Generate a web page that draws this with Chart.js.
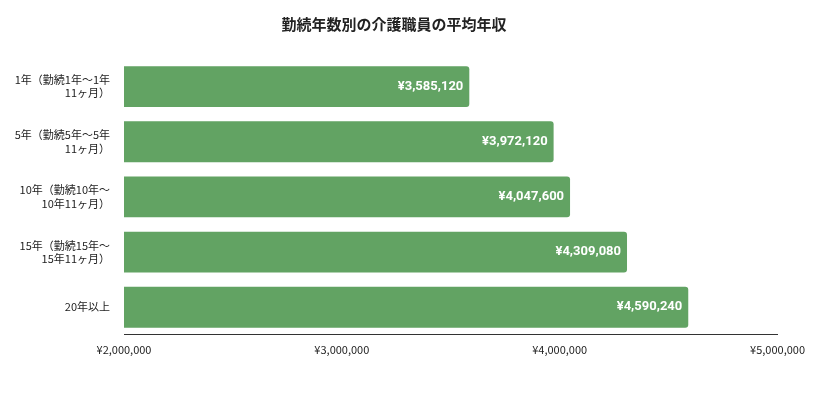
<!DOCTYPE html>
<html lang="ja">
<head>
<meta charset="UTF-8">
<script src="https://cdn.jsdelivr.net/npm/chart.js"></script>
<style>
  body { margin: 0; background: #fff; }
  .wrap { width: 813px; height: 410px; position: relative; }
</style>
</head>
<body>
<div class="wrap"><canvas id="c"></canvas></div>
<script>
const categories = [
  ['1年（勤続1年～1年', '11ヶ月）'],
  ['5年（勤続5年～5年', '11ヶ月）'],
  ['10年（勤続10年～', '10年11ヶ月）'],
  ['15年（勤続15年～', '15年11ヶ月）'],
  ['20年以上']
];
const salaries = [3585120, 3972120, 4047600, 4309080, 4590240];
const tickValues = [2000000, 3000000, 4000000, 5000000];

const yen = v => '¥' + v.toLocaleString('en-US');
const font = "'Noto Sans CJK JP', Roboto, sans-serif";

// 棒の右端に白い金額ラベル
const valueLabels = {
  id: 'valueLabels',
  afterDatasetsDraw(chart) {
    const g = chart.ctx;
    const meta = chart.getDatasetMeta(0);
    g.save();
    g.fillStyle = '#fff';
    g.font = 'bold 13px Roboto, sans-serif';
    g.textAlign = 'right';
    g.textBaseline = 'middle';
    meta.data.forEach((bar, i) => {
      g.fillText(yen(salaries[i]), bar.x - 6, bar.y);
    });
    g.restore();
  }
};

new Chart(document.getElementById('c'), {
  type: 'bar',
  data: {
    labels: categories,
    datasets: [{
      data: salaries,
      backgroundColor: '#62a363',
      borderRadius: 3,
      barPercentage: 0.74,
      categoryPercentage: 1
    }]
  },
  options: {
    indexAxis: 'y',
    responsive: true,
    maintainAspectRatio: false,
    animation: false,
    layout: { padding: { left: 0, right: 25, top: 0, bottom: 46 } },
    plugins: {
      legend: { display: false },
      tooltip: { enabled: false },
      title: {
        display: true,
        text: '勤続年数別の介護職員の平均年収',
        color: '#222',
        font: { family: font, size: 15, weight: 'bold' },
        padding: { top: 15, bottom: 26 }
      }
    },
    scales: {
      x: {
        min: 2000000,
        max: 5000000,
        afterBuildTicks: axis => { axis.ticks = tickValues.map(v => ({ value: v })); },
        grid: { display: false, drawTicks: false },
        border: { color: '#333' },
        ticks: {
          callback: v => yen(v),
          color: '#222',
          padding: 8,
          maxRotation: 0,
          font: { family: font, size: 11 }
        }
      },
      y: {
        afterFit: axis => { axis.width = 124; },
        grid: { display: false },
        border: { display: false },
        ticks: {
          color: '#222',
          padding: 6,
          font: { family: font, size: 11 }
        }
      }
    }
  },
  plugins: [valueLabels]
});
</script>
</body>
</html>
